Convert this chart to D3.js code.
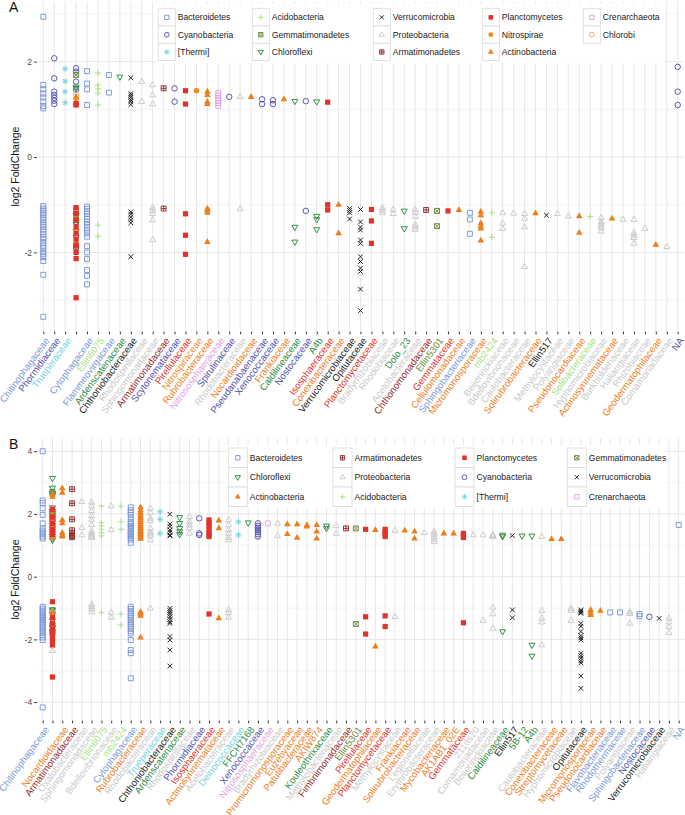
<!DOCTYPE html>
<html><head><meta charset="utf-8">
<script src="https://cdn.jsdelivr.net/npm/d3@7"></script>
<style>body{margin:0;background:#fff}svg{display:block;font-family:"Liberation Sans",Arial,sans-serif}</style>
</head><body><svg id="c" width="685" height="815"></svg>
<script>
// ---------- phyla ----------
const phyla = ["Bacteroidetes","Cyanobacteria","[Thermi]","Acidobacteria","Gemmatimonadetes","Chloroflexi","Verrucomicrobia","Proteobacteria","Armatimonadetes","Planctomycetes","Nitrospirae","Actinobacteria","Crenarchaeota","Chlorobi"];
const phylaColors = ["#7b98d6","#5151ad","#6fd3e3","#a9df7e","#6b8a3c","#2e8b3f","#1a1a1a","#c9c9c9","#922b2b","#e0332b","#f08a1e","#ee7d1b","#e3a3e3","#f5a96b"];
const phylaShapes = ["sq","ci","ast","plus","sqx","tdn","x","tup","sqp","sqF","ciF","tupF","sq","ci"];

const legendA = ["Bacteroidetes","Cyanobacteria","[Thermi]","Acidobacteria","Gemmatimonadetes","Chloroflexi","Verrucomicrobia","Proteobacteria","Armatimonadetes","Planctomycetes","Nitrospirae","Actinobacteria","Crenarchaeota","Chlorobi"];
const legendB = ["Bacteroidetes","Chloroflexi","Actinobacteria","Armatimonadetes","Proteobacteria","Acidobacteria","Planctomycetes","Cyanobacteria","[Thermi]","Gemmatimonadetes","Verrucomicrobia","Crenarchaeota"];

// ---------- panel A ----------
const familiesA = ["Chitinophagaceae","Phormidiaceae","Trueperaceae","","Cytophagaceae","Ellin6075","Flammeovirgaceae","Ardenscatenaceae","Chthoniobacteraceae","Rhodospirillaceae","Sphingomonadaceae","Armatimonadaceae","Scytonemataceae","Pirellulaceae","Nitrospiraceae","Rubrobacteraceae","Nitrososphaeraceae","Spirulinaceae","Rhodobacteraceae","Nocardioidaceae","Pseudanabaenaceae","Xenococcaceae","Frankiaceae","Caldilineaceae","Nostocaceae","A4b","Isosphaeraceae","Conexibacteraceae","Verrucomicrobiaceae","Opitutaceae","Planctomycetaceae","Bradyrhizobiaceae","Rhodobiaceae","Dolo_23","Acetobacteraceae","Chthonomonadaceae","Ellin5301","Gemmataceae","Cellulomonadaceae","Sphingobacteriaceae","Micromonosporaceae","mb2424","Beijerinckiaceae","Bdellovibrionaceae","Caulobacteraceae","Solirubrobacteraceae","Ellin517","Methylocystaceae","Polyangiaceae","Pseudonocardiaceae","Solibacteraceae","Hyphomicrobiaceae","Actinosynnemataceae","Burkholderiaceae","Haliangiaceae","Rhizobiaceae","Geodermatophilaceae","Comamonadaceae","NA"];
const yTicksA = [-2,0,2];
const pointsA = [
["Chitinophagaceae","Bacteroidetes",[2.94,1.51,1.42,1.33,1.25,1.16,1.07,1.02,-1.03,-1.08,-1.12,-1.17,-1.22,-1.27,-1.31,-1.37,-1.42,-1.46,-1.52,-1.57,-1.62,-1.68,-1.73,-1.80,-1.86,-1.91,-1.98,-2.04,-2.10,-2.18,-2.47,-3.35]],
["Phormidiaceae","Cyanobacteria",[2.07,1.65,1.37,1.30,1.24,1.18,1.11]],
["Trueperaceae","[Thermi]",[1.85,1.59,1.37,1.14]],
["","Cyanobacteria",[1.86,1.79,1.58,1.41,-1.65]],
["","Chlorobi",[1.31]],
["","Proteobacteria",[1.35,-1.92,-1.98]],
["","Chloroflexi",[1.47,1.44,-1.22,-1.37,-1.41,-1.55]],
["","Gemmatimonadetes",[1.72,-1.12,-1.26]],
["","Actinobacteria",[1.26,1.15,-1.30,-1.50,-1.78]],
["","Nitrospirae",[1.23]],
["","Armatimonadetes",[-1.88]],
["","Planctomycetes",[1.09,1.12,-1.06,-1.18,-1.32,-1.46,-1.60,-1.72,-1.85,-2.0,-2.13,-2.95]],
["Cytophagaceae","Bacteroidetes",[1.80,1.54,1.42,1.09,-1.04,-1.09,-1.14,-1.19,-1.25,-1.30,-1.36,-1.42,-1.48,-1.54,-1.60,-1.67,-1.87,-2.0,-2.14,-2.37,-2.49,-2.67]],
["Ellin6075","Acidobacteria",[1.76,1.51,1.43,1.34,1.09,-1.43,-1.66]],
["Flammeovirgaceae","Bacteroidetes",[1.72,1.35]],
["Ardenscatenaceae","Chloroflexi",[1.68]],
["Chthoniobacteraceae","Verrucomicrobia",[1.66,1.33,1.29,1.25,1.20,1.16,1.10,-1.15,-1.20,-1.26,-1.32,-1.38,-2.09]],
["Rhodospirillaceae","Proteobacteria",[1.58,1.16]],
["Sphingomonadaceae","Proteobacteria",[1.51,1.30,1.11,-1.06,-1.12,-1.19,-1.32,-1.74]],
["Armatimonadaceae","Armatimonadetes",[1.44,-1.08]],
["Scytonemataceae","Cyanobacteria",[1.44,1.16]],
["Pirellulaceae","Planctomycetes",[1.39,1.11,-1.19,-1.64,-2.04]],
["Nitrospiraceae","Nitrospirae",[1.39]],
["Rubrobacteraceae","Actinobacteria",[1.37,1.30,1.16,1.11,-1.08,-1.12,-1.17,-1.78]],
["Nitrososphaeraceae","Crenarchaeota",[1.34,1.29,1.23,1.18,1.13,1.07]],
["Spirulinaceae","Cyanobacteria",[1.26]],
["Rhodobacteraceae","Proteobacteria",[1.26,-1.09]],
["Nocardioidaceae","Actinobacteria",[1.26]],
["Pseudanabaenaceae","Cyanobacteria",[1.21,1.11]],
["Xenococcaceae","Cyanobacteria",[1.19,1.11]],
["Frankiaceae","Actinobacteria",[1.21]],
["Caldilineaceae","Chloroflexi",[1.17,-1.47,-1.78]],
["Nostocaceae","Cyanobacteria",[1.17,-1.13]],
["A4b","Chloroflexi",[1.16,-1.24,-1.31,-1.52]],
["Isosphaeraceae","Planctomycetes",[1.15,-1.0,-1.11]],
["Conexibacteraceae","Actinobacteria",[-1.0,-1.60]],
["Verrucomicrobiaceae","Verrucomicrobia",[-1.08,-1.12,-1.17,-1.30]],
["Opitutaceae","Verrucomicrobia",[-1.10,-1.36,-1.47,-1.53,-1.74,-1.81,-2.09,-2.19,-2.33,-2.40,-2.77,-3.22]],
["Planctomycetaceae","Planctomycetes",[-1.10,-1.34,-1.81]],
["Bradyrhizobiaceae","Proteobacteria",[-1.07,-1.12,-1.17]],
["Rhodobiaceae","Proteobacteria",[-1.10,-1.19]],
["Dolo_23","Chloroflexi",[-1.13,-1.50]],
["Acetobacteraceae","Proteobacteria",[-1.10,-1.16,-1.25,-1.42,-1.47,-1.52]],
["Chthonomonadaceae","Armatimonadetes",[-1.11]],
["Ellin5301","Gemmatimonadetes",[-1.13,-1.45]],
["Gemmataceae","Planctomycetes",[-1.13]],
["Cellulomonadaceae","Actinobacteria",[-1.11]],
["Sphingobacteriaceae","Bacteroidetes",[-1.17,-1.31,-1.61]],
["Micromonosporaceae","Actinobacteria",[-1.15,-1.22,-1.39,-1.45,-1.50,-1.75]],
["mb2424","Acidobacteria",[-1.17,-1.68]],
["Beijerinckiaceae","Proteobacteria",[-1.17,-1.39,-1.50]],
["Bdellovibrionaceae","Proteobacteria",[-1.18]],
["Caulobacteraceae","Proteobacteria",[-1.19,-1.29,-1.47,-2.30]],
["Solirubrobacteraceae","Actinobacteria",[-1.18]],
["Ellin517","Verrucomicrobia",[-1.22]],
["Methylocystaceae","Proteobacteria",[-1.19]],
["Polyangiaceae","Proteobacteria",[-1.24]],
["Pseudonocardiaceae","Actinobacteria",[-1.24,-1.59]],
["Solibacteraceae","Acidobacteria",[-1.25]],
["Hyphomicrobiaceae","Proteobacteria",[-1.27,-1.36,-1.40,-1.45,-1.49,-1.56]],
["Actinosynnemataceae","Actinobacteria",[-1.29]],
["Burkholderiaceae","Proteobacteria",[-1.31]],
["Haliangiaceae","Proteobacteria",[-1.31,-1.59,-1.64,-1.69,-1.81]],
["Rhizobiaceae","Proteobacteria",[-1.50]],
["Geodermatophilaceae","Actinobacteria",[-1.84]],
["Comamonadaceae","Proteobacteria",[-1.88]],
["NA","Cyanobacteria",[1.89,1.37,1.09]]
];

// ---------- panel B ----------
const familiesB = ["Chitinophagaceae","","Nocardioidaceae","Armatimonadaceae","Oxalobacteraceae","Sphingomonadaceae","Ellin6075","Bdellovibrionaceae","mb2424","Cytophagaceae","Rubrobacteraceae","Rhodobacteraceae","Trueperaceae","Chthoniobacteraceae","Ardenscatenaceae","Rhodospirillaceae","Phormidiaceae","Isosphaeraceae","Actinosynnemataceae","Acetobacteraceae","Deinococcaceae","FFCH7168","Xenococcaceae","Nitrososphaeraceae","Bradyrhizobiaceae","Promicromonosporaceae","Euzebyaceae","Patulibacteraceae","AKIW874","Kouleothrixaceae","Methylobacteriaceae","Fimbriimonadaceae","Ellin5301","Pirellulaceae","Geodermatophilaceae","Planctomycetaceae","Methylocystaceae","Frankiaceae","Solirubrobacteraceae","Legionellaceae","Erythrobacteraceae","Mycobacteriaceae","AK1AB1_02E","Gemmataceae","211ds20","Comamonadaceae","Beijerinckiaceae","Caldilineaceae","Ellin517","5B-12","A4b","Caulobacteraceae","Conexibacteraceae","Streptomycetaceae","Hyphomicrobiaceae","Opitutaceae","Micromonosporaceae","Pseudonocardiaceae","Flavobacteriaceae","Rhodothermaceae","Polyangiaceae","Sphingobacteriaceae","Nostocaceae","Verrucomicrobiaceae","Haliangiaceae","NA"];
const yTicksB = [-4,-2,0,2,4];
const pointsB = [
["Chitinophagaceae","Bacteroidetes",[4.0,2.43,2.35,2.18,1.97,1.70,1.54,1.47,1.41,1.35,1.28,1.22,-0.96,-1.02,-1.08,-1.14,-1.20,-1.26,-1.32,-1.38,-1.44,-1.50,-1.56,-1.62,-1.68,-1.74,-1.80,-1.87,-1.94,-2.02,-4.17]],
["","Proteobacteria",[1.40,-2.20,-2.36]],
["","Gemmatimonadetes",[2.70,2.05,1.62,-1.08,-1.55]],
["","Armatimonadetes",[1.85,-1.78]],
["","Chloroflexi",[3.14,2.83,2.66,2.60,2.20,2.10,2.02,1.95,1.88,1.75,1.65,1.55,1.45,1.38,1.30,1.22,1.17,-1.05,-1.20,-1.40,-1.62,-1.75]],
["","Actinobacteria",[2.62,2.55,2.0,1.81,1.60,1.44,1.25,-1.15,-1.45,-1.65]],
["","Planctomycetes",[2.15,1.90,1.70,1.50,1.35,-0.80,-1.30,-1.50,-1.68,-1.85,-1.95,-2.05,-2.17,-3.20]],
["Nocardioidaceae","Actinobacteria",[2.82,2.68,1.81,1.70,1.40,1.33,1.28]],
["Armatimonadaceae","Armatimonadetes",[2.79,2.34,1.83,1.48,1.38,1.30,1.26]],
["Oxalobacteraceae","Proteobacteria",[2.39,1.56,1.33]],
["Sphingomonadaceae","Proteobacteria",[2.37,2.25,2.10,1.94,1.81,1.66,1.45,1.38,1.33,1.28,1.25,-0.88,-0.96,-1.04,-1.13]],
["Ellin6075","Acidobacteria",[2.25,1.72,1.62,1.51,1.40,1.30,-1.15]],
["Bdellovibrionaceae","Proteobacteria",[2.25,1.49,-1.15,-1.30]],
["mb2424","Acidobacteria",[2.25,1.75,1.51,-1.19,-1.54]],
["Cytophagaceae","Bacteroidetes",[2.21,2.12,2.05,1.97,1.86,1.75,1.68,1.62,1.55,1.48,1.42,1.36,1.30,1.24,1.18,1.08,-0.96,-1.03,-1.10,-1.17,-1.24,-1.31,-1.38,-1.45,-1.52,-1.59,-1.66,-1.74,-1.81,-2.02,-2.34,-2.44,-3.24]],
["Rubrobacteraceae","Actinobacteria",[2.21,2.12,2.05,1.98,1.92,1.86,1.80,1.74,1.68,1.62,1.57,1.51,1.46,1.41,1.36,1.31,1.26,1.21,-1.13,-1.18,-1.25,-1.94]],
["Rhodobacteraceae","Proteobacteria",[2.18,2.04,1.86,1.78,1.54,1.42,1.36,1.30,1.17,-1.01]],
["Trueperaceae","[Thermi]",[2.07,1.83,1.38]],
["Chthoniobacteraceae","Verrucomicrobia",[1.99,1.68,1.60,1.49,1.42,1.33,1.30,-1.01,-1.08,-1.14,-1.20,-1.28,-1.36,-1.44,-1.49,-1.91,-2.02,-2.34,-2.85]],
["Ardenscatenaceae","Chloroflexi",[1.89,1.70,1.54,1.44,1.35]],
["Rhodospirillaceae","Proteobacteria",[1.91,1.75,1.65,1.55,1.38]],
["Phormidiaceae","Cyanobacteria",[1.86,1.38,1.33]],
["Isosphaeraceae","Planctomycetes",[1.81,1.72,1.63,1.52,1.42,1.35,1.28,-1.19]],
["Actinosynnemataceae","Actinobacteria",[1.79,1.54,-1.33]],
["Acetobacteraceae","Proteobacteria",[1.81,1.65,1.49,1.38,1.25,1.17,-1.06,-1.15,-1.30]],
["Deinococcaceae","[Thermi]",[1.75,1.33]],
["FFCH7168","Chloroflexi",[1.72]],
["Xenococcaceae","Cyanobacteria",[1.70,1.62,1.55,1.49,1.42,1.35,1.28]],
["Nitrososphaeraceae","Crenarchaeota",[1.70]],
["Bradyrhizobiaceae","Proteobacteria",[1.70,1.30]],
["Promicromonosporaceae","Actinobacteria",[1.67,1.36]],
["Euzebyaceae","Actinobacteria",[1.67,1.24]],
["Patulibacteraceae","Actinobacteria",[1.65,1.60]],
["AKIW874","Actinobacteria",[1.65,1.44,1.22]],
["Kouleothrixaceae","Chloroflexi",[1.62,1.54]],
["Methylobacteriaceae","Proteobacteria",[1.62,1.38]],
["Fimbriimonadaceae","Armatimonadetes",[1.54]],
["Ellin5301","Gemmatimonadetes",[1.54,-1.51]],
["Pirellulaceae","Planctomycetes",[1.51,-1.28,-1.83]],
["Geodermatophilaceae","Actinobacteria",[1.49,-2.23]],
["Planctomycetaceae","Planctomycetes",[1.51,1.42,1.35,1.28,-1.25,-1.59]],
["Methylocystaceae","Proteobacteria",[1.47,-1.28]],
["Frankiaceae","Actinobacteria",[1.47]],
["Solirubrobacteraceae","Actinobacteria",[1.44,1.22]],
["Legionellaceae","Proteobacteria",[1.40]],
["Erythrobacteraceae","Proteobacteria",[1.44,1.36,1.28,1.20,1.12]],
["Mycobacteriaceae","Actinobacteria",[1.38]],
["AK1AB1_02E","Actinobacteria",[1.38]],
["Gemmataceae","Planctomycetes",[1.38,1.30,1.25,-1.47]],
["211ds20","Proteobacteria",[1.33]],
["Comamonadaceae","Proteobacteria",[1.33,-1.40]],
["Beijerinckiaceae","Proteobacteria",[1.33,1.30,1.28,-0.98,-1.19,-1.65]],
["Caldilineaceae","Chloroflexi",[1.33,1.28,-1.75]],
["Ellin517","Verrucomicrobia",[1.31,-1.06,-1.31]],
["5B-12","Chloroflexi",[1.30]],
["A4b","Chloroflexi",[1.30,-2.18,-2.53]],
["Caulobacteraceae","Proteobacteria",[1.28,-1.08,-1.33,-1.45,-2.18]],
["Conexibacteraceae","Actinobacteria",[1.20]],
["Streptomycetaceae","Actinobacteria",[1.20]],
["Hyphomicrobiaceae","Proteobacteria",[-1.01,-1.08,-1.40]],
["Opitutaceae","Verrucomicrobia",[-1.06,-1.10,-1.14,-1.17,-1.49,-1.58,-1.75,-1.88,-1.95,-2.02,-2.44,-2.52,-2.60,-2.68,-2.75,-3.17,-3.56]],
["Micromonosporaceae","Actinobacteria",[-1.06,-1.14,-1.22]],
["Pseudonocardiaceae","Actinobacteria",[-1.09]],
["Flavobacteriaceae","Bacteroidetes",[-1.14]],
["Rhodothermaceae","Bacteroidetes",[-1.14]],
["Polyangiaceae","Proteobacteria",[-1.12,-1.18,-1.49]],
["Sphingobacteriaceae","Bacteroidetes",[-1.19,-1.26]],
["Nostocaceae","Cyanobacteria",[-1.28]],
["Verrucomicrobiaceae","Verrucomicrobia",[-1.33]],
["Haliangiaceae","Proteobacteria",[-1.33,-1.45,-1.60,-1.79]],
["NA","Bacteroidetes",[1.65]]
];

// ---------- drawing ----------
const svg = d3.select("#c");
const colorOf = d3.scaleOrdinal().domain(phyla).range(phylaColors);
const shapeOf = d3.scaleOrdinal().domain(phyla).range(phylaShapes);

function sqP(r){return `M${-r},${-r}H${r}V${r}H${-r}Z`;}
function ciP(r){return `M${r},0A${r},${r} 0 1,1 ${-r},0A${r},${r} 0 1,1 ${r},0Z`;}
function tuP(r){return `M0,${-1.15*r}L${r},${0.6*r}L${-r},${0.6*r}Z`;}
function tdP(r){return `M0,${1.15*r}L${r},${-0.6*r}L${-r},${-0.6*r}Z`;}
function plP(r){return `M${-r},0H${r}M0,${-r}V${r}`;}
function xP(r){return `M${-r},${-r}L${r},${r}M${-r},${r}L${r},${-r}`;}
function marker(g, phylum, cx, cy, R){
  const t = shapeOf(phylum), c = colorOf(phylum);
  let d, filled=false;
  switch(t){
    case "sq": d=sqP(R*0.9); break;
    case "ci": d=ciP(R); break;
    case "ast": d=plP(R*1.1)+xP(R*0.8); break;
    case "plus": d=plP(R*1.1); break;
    case "sqx": d=sqP(R*0.9)+xP(R*0.9); break;
    case "tdn": d=tdP(R*1.1); break;
    case "x": d=xP(R*0.85); break;
    case "tup": d=tuP(R*1.1); break;
    case "sqp": d=sqP(R*0.9)+plP(R*0.9); break;
    case "sqF": d=sqP(R*0.95); filled=true; break;
    case "ciF": d=ciP(R); filled=true; break;
    case "tupF": d=tuP(R*1.2); filled=true; break;
  }
  g.append("path").attr("d",d).attr("transform",`translate(${cx},${cy})`)
    .attr("fill",filled?c:"none").attr("stroke",filled?"none":c).attr("stroke-width",0.95);
}

function drawPanel(o){
  const x = d3.scalePoint().domain(d3.range(o.fams.length)).range([o.x0,o.x1]);
  const y = d3.scaleLinear().domain(o.ydom).range([o.bottom,o.top]);
  const step = x.step(), left = o.x0-0.6*step, right = o.x1+0.6*step;
  const g = svg.append("g");
  // grid
  const minor = d3.range(Math.ceil(o.ydom[0]), Math.floor(o.ydom[1])+1).filter(v=>!o.ticks.includes(v));
  g.selectAll(".mn").data(minor).join("line").attr("x1",left).attr("x2",right)
    .attr("y1",d=>y(d)).attr("y2",d=>y(d)).attr("stroke","#eeeeee").attr("stroke-width",0.6);
  g.selectAll(".mj").data(o.ticks).join("line").attr("x1",left).attr("x2",right)
    .attr("y1",d=>y(d)).attr("y2",d=>y(d)).attr("stroke","#e4e4e4").attr("stroke-width",0.9);
  g.selectAll(".vg").data(d3.range(o.fams.length)).join("line").attr("x1",d=>x(d)).attr("x2",d=>x(d))
    .attr("y1",o.top).attr("y2",o.bottom).attr("stroke","#e4e4e4").attr("stroke-width",0.9);
  // axes
  const ya = g.append("g").attr("transform",`translate(${left},0)`)
    .call(d3.axisLeft(y).tickValues(o.ticks).tickSize(2.7).tickPadding(2).tickFormat(d=>String(d)));
  ya.select(".domain").remove();
  ya.selectAll("line").attr("stroke","#333");
  ya.selectAll("text").attr("fill","#4d4d4d").style("font-size","8.5px").style("font-family","Liberation Sans, Arial, sans-serif");
  const xa = g.append("g").attr("transform",`translate(0,${o.bottom})`)
    .call(d3.axisBottom(x).tickSize(2.7).tickFormat(""));
  xa.select(".domain").remove();
  xa.selectAll("line").attr("stroke","#333");
  // labels
  const famPh = {};
  o.pts.forEach(p=>{ if(p[0]!=="" && !famPh[p[0]]) famPh[p[0]]=p[1]; });
  o.fams.forEach((f,i)=>{
    if(f==="") return;
    g.append("text").attr("transform",`translate(${x(i)+1},${o.bottom+5}) rotate(-54)`)
      .attr("text-anchor","end").attr("dy","0.72em").style("font-size","9.6px")
      .attr("fill",colorOf(famPh[f])).text(f);
  });
  // points
  const pg = g.append("g");
  o.pts.forEach(p=>{
    const xi = o.fams.indexOf(p[0]);
    p[2].forEach(v=> marker(pg, p[1], x(xi), y(v), 2.75));
  });
  // y title
  g.append("text").attr("transform",`translate(15,${(o.top+o.bottom)/2}) rotate(-90)`)
    .attr("text-anchor","middle").attr("dy","0.35em").style("font-size","10.5px").attr("fill","#111").text("log2 FoldChange");
  // panel letter
  g.append("text").attr("x",9).attr("y",o.letterY).style("font-size","14px").attr("fill","#111").text(o.letter);
  // legend
  const lg = g.append("g");
  lg.append("rect").attr("x",o.leg.bx0).attr("y",o.leg.by0).attr("width",o.leg.bx1-o.leg.bx0).attr("height",o.leg.by1-o.leg.by0).attr("fill","#fff");
  o.legend.forEach((ph,i)=>{
    const col = Math.floor(i/3), row = i%3;
    const kx = o.leg.cols[col], ky = o.leg.top + row*o.leg.h;
    lg.append("rect").attr("x",kx).attr("y",ky).attr("width",o.leg.w).attr("height",o.leg.h)
      .attr("fill","#fff").attr("stroke","#dadada").attr("stroke-width",0.8);
    marker(lg, ph, kx+o.leg.w/2, ky+o.leg.h/2, 2.4);
    lg.append("text").attr("x",kx+o.leg.w+2.5).attr("y",ky+o.leg.h/2).attr("dy","0.35em")
      .style("font-size","8.6px").attr("fill","#1a1a1a").text(ph);
  });
}

drawPanel({fams:familiesA, pts:pointsA, ticks:yTicksA, ydom:[-3.66,3.26], top:1.5, bottom:331.6,
  x0:43.3, x1:677.7, letter:"A", letterY:12, legend:legendA,
  leg:{cols:[158.3,252.3,373.3,482.3,583.3], top:8.7, h:17.3, w:17, bx0:156, bx1:665, by0:4, by1:63}});
drawPanel({fams:familiesB, pts:pointsB, ticks:yTicksB, ydom:[-4.59,4.41], top:438.4, bottom:720.6,
  x0:42.7, x1:678.7, letter:"B", letterY:449, legend:legendB,
  leg:{cols:[228.3,333,455,567.3], top:448, h:19.5, w:19, bx0:226, bx1:665, by0:445, by1:508}});
</script></body></html>
